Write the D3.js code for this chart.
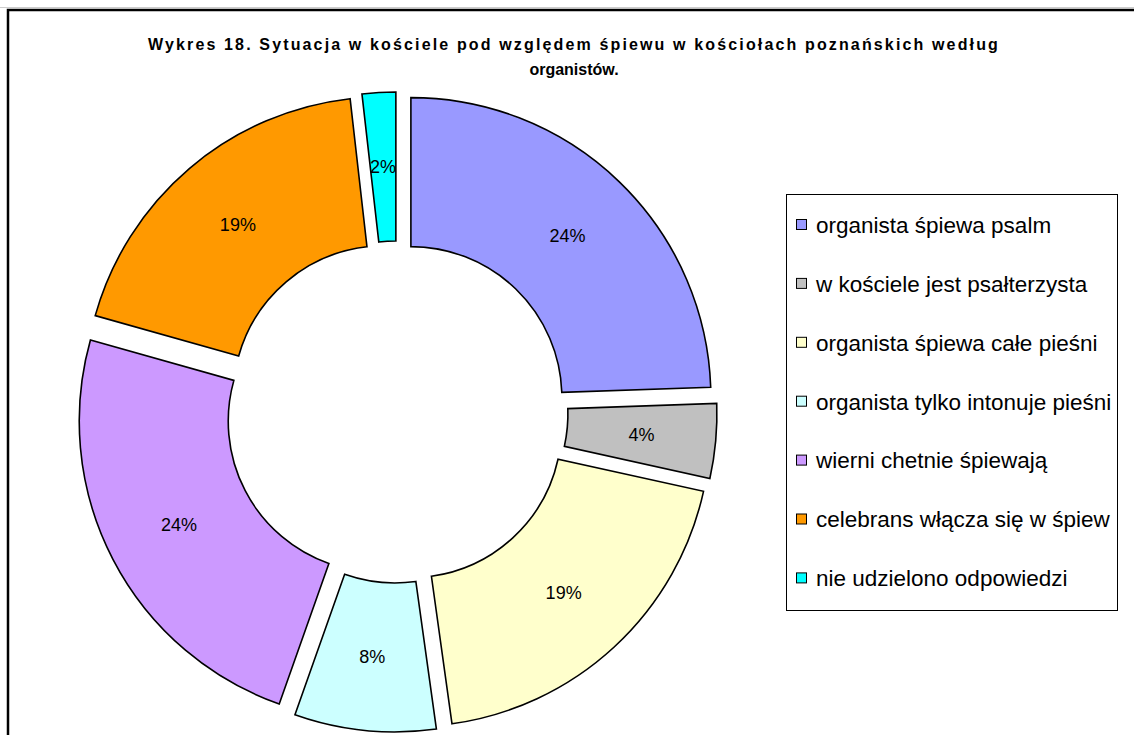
<!DOCTYPE html>
<html>
<head>
<meta charset="utf-8">
<script src="https://cdn.jsdelivr.net/npm/d3@7"></script>
<style>
  body { margin: 0; background: #fff; }
  svg { display: block; font-family: Arial, "Liberation Sans", sans-serif; }
</style>
</head>
<body>
<div id="chart"></div>
<script>
// Chart data (percent shares, clockwise from 12 o'clock)
var categories = [
    "organista śpiewa psalm",
    "w kościele jest psałterzysta",
    "organista śpiewa całe pieśni",
    "organista tylko intonuje pieśni",
    "wierni chetnie śpiewają",
    "celebrans włącza się w śpiew",
    "nie udzielono odpowiedzi"
];
var values = [24.4, 4.0, 19.3, 7.6, 23.9, 18.8, 1.8];
var colors = ["#9999FF", "#C0C0C0", "#FFFFCC", "#CCFFFF", "#CC99FF", "#FF9900", "#00FFFF"];
var titleLines = [
    "Wykres 18. Sytuacja w kościele pod względem śpiewu w kościołach poznańskich według",
    "organistów."
];

var width = 1134;
var height = 735;

var svg = d3.select("#chart").append("svg")
    .attr("width", width)
    .attr("height", height);

// Outer frame (only top and left edges are visible in the crop)
svg.append("line")
    .attr("x1", 0).attr("x2", width)
    .attr("y1", 7.5).attr("y2", 7.5)
    .style("stroke", "#ccc")
    .style("stroke-width", 1);

svg.append("rect")
    .attr("x", 8)
    .attr("y", 10)
    .attr("width", width + 50)
    .attr("height", height + 50)
    .style("fill", "none")
    .style("stroke", "#000")
    .style("stroke-width", 2.5);

// Title - first line spread to its original width, second line natural
titleLines.forEach(function (line, i) {
    var t = svg.append("text")
        .attr("x", 574)
        .attr("y", 50 + i * 25)
        .style("font-size", "16px")
        .style("font-weight", "700")
        .style("text-anchor", "middle")
        .text(line);
    if (i === 0) {
        var natural = t.node().getComputedTextLength();
        t.style("letter-spacing", ((852 - natural) / line.length) + "px");
    }
});

// Donut
var cx = 397, cy = 412;
var outerR = 300, innerR = 151, explode = 20;

var pie = d3.pie()
    .sort(null)
    .value(d => d.value);

var arc = d3.arc()
    .innerRadius(innerR)
    .outerRadius(outerR);

var pieData = categories.map((c, i) => ({ label: c, value: values[i], color: colors[i] }));

var g = svg.append("g")
    .attr("transform", `translate(${cx}, ${cy})`);

var slices = g.selectAll(".arc")
    .data(pie(pieData))
    .enter()
    .append("g")
    .attr("class", "arc")
    .attr("transform", function (d) {
        var mid = (d.startAngle + d.endAngle) / 2;
        return `translate(${Math.sin(mid) * explode}, ${-Math.cos(mid) * explode})`;
    });

slices.append("path")
    .attr("d", arc)
    .attr("fill", d => d.data.color)
    .style("stroke", "#000")
    .style("stroke-width", 1.6)
    .style("stroke-linejoin", "miter");

slices.append("text")
    .attr("transform", d => `translate(${arc.centroid(d)})`)
    .attr("dy", "0.35em")
    .style("text-anchor", "middle")
    .style("font-size", "18px")
    .text(d => Math.round(d.data.value) + "%");

// Legend
var legend = svg.append("g");

legend.append("rect")
    .attr("x", 786.5)
    .attr("y", 194.5)
    .attr("width", 331)
    .attr("height", 416)
    .style("fill", "#fff")
    .style("stroke", "#000")
    .style("stroke-width", 1);

var keys = legend.selectAll(".key")
    .data(pieData)
    .enter().append("g")
    .attr("class", "key")
    .attr("transform", (d, i) => `translate(0, ${225 + i * 58.9})`);

keys.append("rect")
    .attr("x", 796.5)
    .attr("y", -5.5)
    .attr("width", 10)
    .attr("height", 10)
    .attr("fill", d => d.color)
    .style("stroke", "#000")
    .style("stroke-width", 1);

keys.append("text")
    .attr("x", 816)
    .attr("y", 0)
    .attr("dy", "0.35em")
    .style("font-size", "22.5px")
    .text(d => d.label);
</script>
</body>
</html>
